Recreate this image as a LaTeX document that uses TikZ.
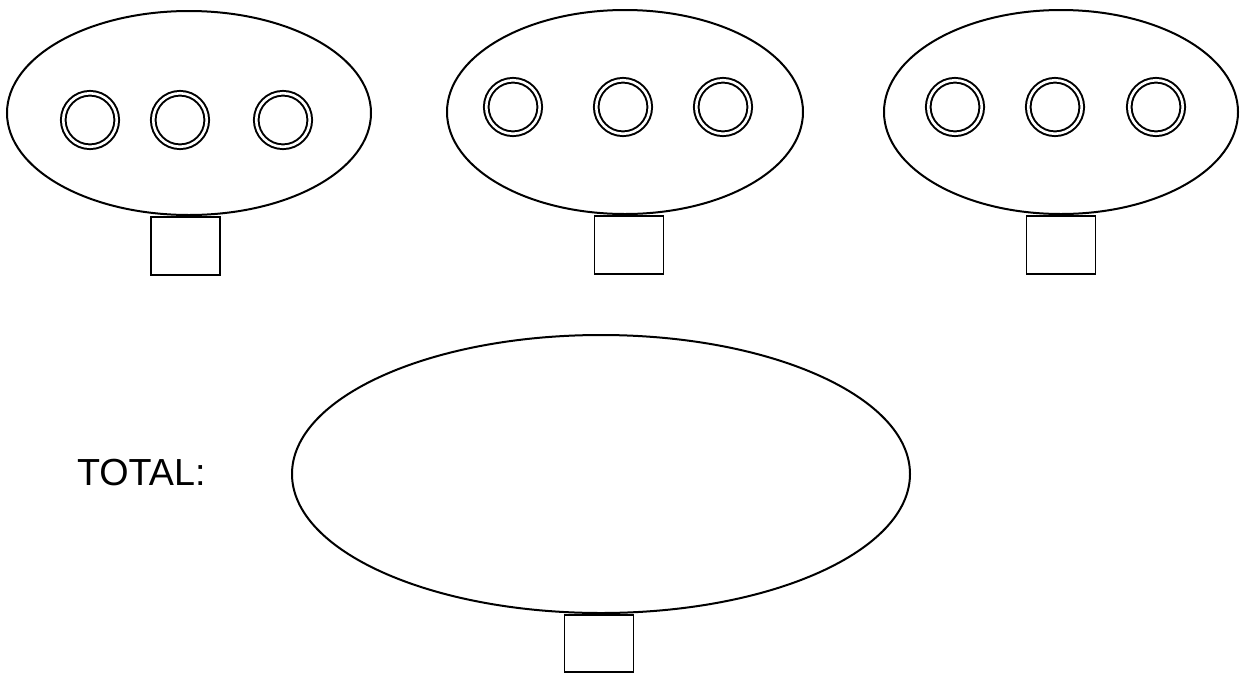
\documentclass[tikz,border=0pt]{standalone}
\usepackage{fontspec}
\setmainfont{Liberation Sans}
\usetikzlibrary{positioning,shapes.geometric}

\begin{document}
\begin{tikzpicture}[
    x=1pt, y=-1pt,
    line width=2pt,
    pod/.style={draw, ellipse, inner sep=0pt, minimum width=#1},
    hole/.style={draw, circle, double, double distance=2.6pt,
                 inner sep=0pt, minimum size=53.5pt},
    stem/.style={draw, rectangle, inner sep=0pt, line width=1.8pt,
                 minimum width=69pt, minimum height=58pt},
    lbl/.style={font=\fontsize{37.7pt}{45pt}\selectfont, inner sep=0pt},
  ]
  \useasboundingbox (0,0) rectangle (1251,673);

  % --- top row of pods ---
  \node[pod=364pt, minimum height=204pt] (podA) at (189,113) {};
  \node[pod=356pt, minimum height=204pt] (podB) at (625,112) {};
  \node[pod=354pt, minimum height=204pt] (podC) at (1061,112) {};

  % --- holes ---
  \node[hole] (holeA1) at (90,120)  {};
  \node[hole] (holeA2) at (180,120) {};
  \node[hole] (holeA3) at (283,120) {};

  \node[hole] (holeB1) at (513,107) {};
  \node[hole] (holeB2) at (623,107) {};
  \node[hole] (holeB3) at (723,107) {};

  \node[hole] (holeC1) at (955,107)  {};
  \node[hole] (holeC2) at (1055,107) {};
  \node[hole] (holeC3) at (1156,107) {};

  % --- stems ---
  \node[stem, below=0pt of podA, xshift=-3.5pt] (stemA) {};
  \node[stem, below=0pt of podB, xshift=4pt]    (stemB) {};
  \node[stem, below=0pt of podC]                (stemC) {};

  % --- total ---
  \node[pod=618pt, minimum height=278pt] (podT) at (601,474) {};
  \node[stem, below=0pt of podT, xshift=-2pt, minimum height=57pt] (stemT) {};

  \node[lbl, anchor=base west] (total) at (76,485) {TOTAL:};

\end{tikzpicture}
\end{document}
